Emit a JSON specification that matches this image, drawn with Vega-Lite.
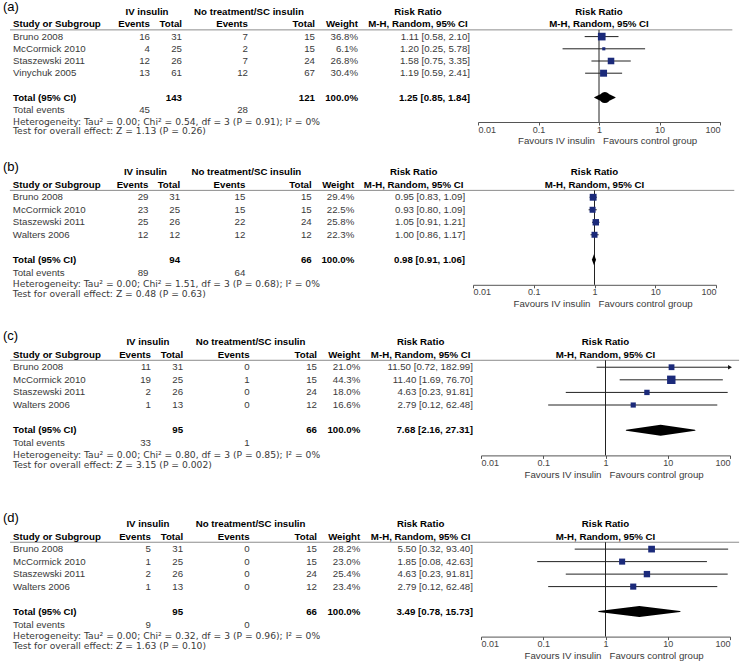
{
"$schema":"https://vega.github.io/schema/vega-lite/v6.json",
"background":"white",
"padding":0,
"datasets":{"rows":[
{"panel":"a","type":"s","line":1,"study":"Bruno 2008","e1":16,"n1":31,"e2":7,"n2":15,"w":0.368,"ci":"1.11 [0.58, 2.10]","est":1.11,"lo":0.58,"hi":2.10},
{"panel":"a","type":"s","line":2,"study":"McCormick 2010","e1":4,"n1":25,"e2":2,"n2":15,"w":0.061,"ci":"1.20 [0.25, 5.78]","est":1.20,"lo":0.25,"hi":5.78},
{"panel":"a","type":"s","line":3,"study":"Staszewski 2011","e1":12,"n1":26,"e2":7,"n2":24,"w":0.268,"ci":"1.58 [0.75, 3.35]","est":1.58,"lo":0.75,"hi":3.35},
{"panel":"a","type":"s","line":4,"study":"Vinychuk 2005","e1":13,"n1":61,"e2":12,"n2":67,"w":0.304,"ci":"1.19 [0.59, 2.41]","est":1.19,"lo":0.59,"hi":2.41},
{"panel":"a","type":"t","line":6,"study":"Total (95% CI)","n1":143,"n2":121,"w":1,"ci":"1.25 [0.85, 1.84]","est":1.25,"lo":0.85,"hi":1.84},
{"panel":"a","type":"sum","label":"(a)","ev1":45,"ev2":28,"het":"Heterogeneity: Tau² = 0.00; Chi² = 0.54, df = 3 (P = 0.91); I² = 0%","test":"Test for overall effect: Z = 1.13 (P = 0.26)"},
{"panel":"b","type":"s","line":1,"study":"Bruno 2008","e1":29,"n1":31,"e2":15,"n2":15,"w":0.294,"ci":"0.95 [0.83, 1.09]","est":0.95,"lo":0.83,"hi":1.09},
{"panel":"b","type":"s","line":2,"study":"McCormick 2010","e1":23,"n1":25,"e2":15,"n2":15,"w":0.225,"ci":"0.93 [0.80, 1.09]","est":0.93,"lo":0.80,"hi":1.09},
{"panel":"b","type":"s","line":3,"study":"Staszewski 2011","e1":25,"n1":26,"e2":22,"n2":24,"w":0.258,"ci":"1.05 [0.91, 1.21]","est":1.05,"lo":0.91,"hi":1.21},
{"panel":"b","type":"s","line":4,"study":"Walters 2006","e1":12,"n1":12,"e2":12,"n2":12,"w":0.223,"ci":"1.00 [0.86, 1.17]","est":1.00,"lo":0.86,"hi":1.17},
{"panel":"b","type":"t","line":6,"study":"Total (95% CI)","n1":94,"n2":66,"w":1,"ci":"0.98 [0.91, 1.06]","est":0.98,"lo":0.91,"hi":1.06},
{"panel":"b","type":"sum","label":"(b)","ev1":89,"ev2":64,"het":"Heterogeneity: Tau² = 0.00; Chi² = 1.51, df = 3 (P = 0.68); I² = 0%","test":"Test for overall effect: Z = 0.48 (P = 0.63)"},
{"panel":"c","type":"s","line":1,"study":"Bruno 2008","e1":11,"n1":31,"e2":0,"n2":15,"w":0.210,"ci":"11.50 [0.72, 182.99]","est":11.50,"lo":0.72,"hi":182.99},
{"panel":"c","type":"s","line":2,"study":"McCormick 2010","e1":19,"n1":25,"e2":1,"n2":15,"w":0.443,"ci":"11.40 [1.69, 76.70]","est":11.40,"lo":1.69,"hi":76.70},
{"panel":"c","type":"s","line":3,"study":"Staszewski 2011","e1":2,"n1":26,"e2":0,"n2":24,"w":0.180,"ci":"4.63 [0.23, 91.81]","est":4.63,"lo":0.23,"hi":91.81},
{"panel":"c","type":"s","line":4,"study":"Walters 2006","e1":1,"n1":13,"e2":0,"n2":12,"w":0.166,"ci":"2.79 [0.12, 62.48]","est":2.79,"lo":0.12,"hi":62.48},
{"panel":"c","type":"t","line":6,"study":"Total (95% CI)","n1":95,"n2":66,"w":1,"ci":"7.68 [2.16, 27.31]","est":7.68,"lo":2.16,"hi":27.31},
{"panel":"c","type":"sum","label":"(c)","ev1":33,"ev2":1,"het":"Heterogeneity: Tau² = 0.00; Chi² = 0.80, df = 3 (P = 0.85); I² = 0%","test":"Test for overall effect: Z = 3.15 (P = 0.002)"},
{"panel":"d","type":"s","line":1,"study":"Bruno 2008","e1":5,"n1":31,"e2":0,"n2":15,"w":0.282,"ci":"5.50 [0.32, 93.40]","est":5.50,"lo":0.32,"hi":93.40},
{"panel":"d","type":"s","line":2,"study":"McCormick 2010","e1":1,"n1":25,"e2":0,"n2":15,"w":0.230,"ci":"1.85 [0.08, 42.63]","est":1.85,"lo":0.08,"hi":42.63},
{"panel":"d","type":"s","line":3,"study":"Staszewski 2011","e1":2,"n1":26,"e2":0,"n2":24,"w":0.254,"ci":"4.63 [0.23, 91.81]","est":4.63,"lo":0.23,"hi":91.81},
{"panel":"d","type":"s","line":4,"study":"Walters 2006","e1":1,"n1":13,"e2":0,"n2":12,"w":0.234,"ci":"2.79 [0.12, 62.48]","est":2.79,"lo":0.12,"hi":62.48},
{"panel":"d","type":"t","line":6,"study":"Total (95% CI)","n1":95,"n2":66,"w":1,"ci":"3.49 [0.78, 15.73]","est":3.49,"lo":0.78,"hi":15.73},
{"panel":"d","type":"sum","label":"(d)","ev1":9,"ev2":0,"het":"Heterogeneity: Tau² = 0.00; Chi² = 0.32, df = 3 (P = 0.96); I² = 0%","test":"Test for overall effect: Z = 1.63 (P = 0.10)"}
]},
"vconcat":[
{"width":720,"height":122,"data":{"name":"rows"},"transform":[{"filter":"datum.panel=='a'"}],
"resolve":{"scale":{"x":"independent","size":"independent"},"axis":{"x":"independent"}},
"layer":[
{"layer":[
{"data":{"values":[{}]},"mark":{"type":"rule","color":"#8c8c8c"},"encoding":{"x":{"datum":10,"type":"quantitative","scale":{"domain":[0,478],"range":[0,478],"nice":false,"zero":false},"axis":null},"x2":{"datum":478},"y":{"datum":0.45,"type":"quantitative","axis":null}}},
{"transform":[{"filter":"datum.type=='s'"}],"encoding":{"y":{"field":"line","type":"quantitative","scale":{"domain":[-2,8],"reverse":true,"nice":false,"zero":false},"axis":null}},"layer":[
{"mark":{"type":"text","align":"left"},"encoding":{"x":{"datum":13,"type":"quantitative"},"text":{"field":"study"}}},
{"mark":{"type":"text","align":"right"},"encoding":{"x":{"datum":150,"type":"quantitative"},"text":{"field":"e1","type":"quantitative"}}},
{"mark":{"type":"text","align":"right"},"encoding":{"x":{"datum":182,"type":"quantitative"},"text":{"field":"n1","type":"quantitative"}}},
{"mark":{"type":"text","align":"right"},"encoding":{"x":{"datum":248,"type":"quantitative"},"text":{"field":"e2","type":"quantitative"}}},
{"mark":{"type":"text","align":"right"},"encoding":{"x":{"datum":315,"type":"quantitative"},"text":{"field":"n2","type":"quantitative"}}},
{"mark":{"type":"text","align":"right"},"encoding":{"x":{"datum":358,"type":"quantitative"},"text":{"field":"w","type":"quantitative","format":".1%"}}},
{"mark":{"type":"text","align":"right"},"encoding":{"x":{"datum":470,"type":"quantitative"},"text":{"field":"ci"}}}]},
{"transform":[{"filter":"datum.type=='t'"}],"encoding":{"y":{"field":"line","type":"quantitative","scale":{"domain":[-2,8],"reverse":true,"nice":false,"zero":false},"axis":null}},"layer":[
{"mark":{"type":"text","align":"left","fontWeight":"bold","color":"#000"},"encoding":{"x":{"datum":13,"type":"quantitative"},"text":{"field":"study"}}},
{"mark":{"type":"text","align":"right","fontWeight":"bold","color":"#000"},"encoding":{"x":{"datum":182,"type":"quantitative"},"text":{"field":"n1","type":"quantitative"}}},
{"mark":{"type":"text","align":"right","fontWeight":"bold","color":"#000"},"encoding":{"x":{"datum":315,"type":"quantitative"},"text":{"field":"n2","type":"quantitative"}}},
{"mark":{"type":"text","align":"right","fontWeight":"bold","color":"#000"},"encoding":{"x":{"datum":358,"type":"quantitative"},"text":{"field":"w","type":"quantitative","format":".1%"}}},
{"mark":{"type":"text","align":"right","fontWeight":"bold","color":"#000"},"encoding":{"x":{"datum":470,"type":"quantitative"},"text":{"field":"ci"}}}]},
{"transform":[{"filter":"datum.type=='sum'"}],"layer":[
{"mark":{"type":"text","align":"left","fontSize":13,"color":"#000"},"encoding":{"x":{"datum":3,"type":"quantitative"},"y":{"datum":-1.45,"type":"quantitative"},"text":{"field":"label"}}},
{"mark":{"type":"text","align":"left","text":"Total events"},"encoding":{"x":{"datum":13,"type":"quantitative"},"y":{"datum":7.05,"type":"quantitative"}}},
{"mark":{"type":"text","align":"right"},"encoding":{"x":{"datum":150,"type":"quantitative"},"y":{"datum":7.05,"type":"quantitative"},"text":{"field":"ev1","type":"quantitative"}}},
{"mark":{"type":"text","align":"right"},"encoding":{"x":{"datum":248,"type":"quantitative"},"y":{"datum":7.05,"type":"quantitative"},"text":{"field":"ev2","type":"quantitative"}}},
{"mark":{"type":"text","align":"left","font":"DejaVu Sans","fontSize":9.2},"encoding":{"x":{"datum":13,"type":"quantitative"},"y":{"datum":7.97,"type":"quantitative"},"text":{"field":"het"}}},
{"mark":{"type":"text","align":"left","font":"DejaVu Sans","fontSize":9.2},"encoding":{"x":{"datum":13,"type":"quantitative"},"y":{"datum":8.75,"type":"quantitative"},"text":{"field":"test"}}},
{"mark":{"type":"text","fontWeight":"bold","color":"#000","text":"IV insulin"},"encoding":{"x":{"datum":147,"type":"quantitative"},"y":{"datum":-1,"type":"quantitative"}}},
{"mark":{"type":"text","fontWeight":"bold","color":"#000","text":"No treatment/SC insulin"},"encoding":{"x":{"datum":249,"type":"quantitative"},"y":{"datum":-1,"type":"quantitative"}}},
{"mark":{"type":"text","fontWeight":"bold","color":"#000","text":"Risk Ratio"},"encoding":{"x":{"datum":418,"type":"quantitative"},"y":{"datum":-1,"type":"quantitative"}}},
{"mark":{"type":"text","align":"left","fontWeight":"bold","color":"#000","text":"Study or Subgroup"},"encoding":{"x":{"datum":13,"type":"quantitative"},"y":{"datum":0,"type":"quantitative"}}},
{"mark":{"type":"text","align":"right","fontWeight":"bold","color":"#000","text":"Events"},"encoding":{"x":{"datum":150,"type":"quantitative"},"y":{"datum":0,"type":"quantitative"}}},
{"mark":{"type":"text","align":"right","fontWeight":"bold","color":"#000","text":"Total"},"encoding":{"x":{"datum":182,"type":"quantitative"},"y":{"datum":0,"type":"quantitative"}}},
{"mark":{"type":"text","align":"right","fontWeight":"bold","color":"#000","text":"Events"},"encoding":{"x":{"datum":248,"type":"quantitative"},"y":{"datum":0,"type":"quantitative"}}},
{"mark":{"type":"text","align":"right","fontWeight":"bold","color":"#000","text":"Total"},"encoding":{"x":{"datum":315,"type":"quantitative"},"y":{"datum":0,"type":"quantitative"}}},
{"mark":{"type":"text","align":"right","fontWeight":"bold","color":"#000","text":"Weight"},"encoding":{"x":{"datum":358,"type":"quantitative"},"y":{"datum":0,"type":"quantitative"}}},
{"mark":{"type":"text","fontWeight":"bold","color":"#000","text":"M-H, Random, 95% CI"},"encoding":{"x":{"datum":418,"type":"quantitative"},"y":{"datum":0,"type":"quantitative"}}}]}
]},
{"resolve":{"scale":{"size":"independent"}},"layer":[
{"data":{"values":[{}]},"mark":{"type":"rule","color":"#8c8c8c"},"encoding":{"x":{"datum":0.01,"type":"quantitative","scale":{"type":"log","domain":[0.01,100],"range":[478,720]},"axis":{"orient":"bottom","values":[0.01,0.1,1,10,100],"format":"~g","title":null,"grid":false,"tickSize":3,"tickColor":"#555","domainColor":"#555","labelFontSize":9,"labelColor":"#444","labelPadding":0,"labelFlush":true,"labelOverlap":false}},"x2":{"datum":160},"y":{"datum":0.45,"type":"quantitative"}}},
{"data":{"values":[{}]},"mark":{"type":"rule","color":"#222"},"encoding":{"x":{"datum":1,"type":"quantitative","scale":{"type":"log"}},"y":{"datum":0.45,"type":"quantitative"},"y2":{"datum":8}}},
{"transform":[{"filter":"datum.type=='s'"}],"encoding":{"y":{"field":"line","type":"quantitative","scale":{"domain":[-2,8],"reverse":true,"nice":false,"zero":false},"axis":null}},"layer":[
{"mark":{"type":"rule","color":"#222","clip":true},"encoding":{"x":{"field":"lo","type":"quantitative","scale":{"type":"log"},"title":null},"x2":{"field":"hi"}}},
{"transform":[{"filter":"datum.hi > 100"}],"mark":{"type":"point","shape":"triangle-right","filled":true,"color":"#111","size":20,"opacity":1},"encoding":{"x":{"datum":100,"type":"quantitative","scale":{"type":"log"}}}},
{"mark":{"type":"point","shape":"square","filled":true,"color":"#1b2a7a","opacity":1},"encoding":{"x":{"field":"est","type":"quantitative","scale":{"type":"log"},"title":null},"size":{"field":"w","type":"quantitative","scale":{"domain":[0,1],"range":[0,160]},"legend":null}}}]},
{"transform":[{"filter":"datum.type=='t'"},{"fold":["lo","est","hi"],"as":["k","v"]}],"mark":{"type":"trail","color":"#000"},"encoding":{"x":{"field":"v","type":"quantitative","scale":{"type":"log"},"title":null},"y":{"field":"line","type":"quantitative","scale":{"domain":[-2,8],"reverse":true,"nice":false,"zero":false},"axis":null},"size":{"field":"k","type":"nominal","scale":{"type":"ordinal","domain":["lo","est","hi"],"range":[0,11,0]},"legend":null}}},
{"transform":[{"filter":"datum.type=='sum'"}],"layer":[
{"mark":{"type":"text","fontWeight":"bold","color":"#000","text":"Risk Ratio"},"encoding":{"x":{"datum":1,"type":"quantitative","scale":{"type":"log"}},"y":{"datum":-1,"type":"quantitative"}}},
{"mark":{"type":"text","fontWeight":"bold","color":"#000","text":"M-H, Random, 95% CI"},"encoding":{"x":{"datum":1,"type":"quantitative","scale":{"type":"log"}},"y":{"datum":0,"type":"quantitative"}}},
{"mark":{"type":"text","align":"right","dx":-4,"text":"Favours IV insulin"},"encoding":{"x":{"datum":1,"type":"quantitative","scale":{"type":"log"}},"y":{"datum":9.55,"type":"quantitative"}}},
{"mark":{"type":"text","align":"left","dx":4,"text":"Favours control group"},"encoding":{"x":{"datum":1,"type":"quantitative","scale":{"type":"log"}},"y":{"datum":9.55,"type":"quantitative"}}}]}
]}
]},
{"width":716,"height":125.8,"data":{"name":"rows"},"transform":[{"filter":"datum.panel=='b'"}],
"resolve":{"scale":{"x":"independent","size":"independent"},"axis":{"x":"independent"}},
"layer":[
{"layer":[
{"data":{"values":[{}]},"mark":{"type":"rule","color":"#8c8c8c"},"encoding":{"x":{"datum":10,"type":"quantitative","scale":{"domain":[0,478],"range":[0,473],"nice":false,"zero":false},"axis":null},"x2":{"datum":478},"y":{"datum":0.45,"type":"quantitative","axis":null}}},
{"transform":[{"filter":"datum.type=='s'"}],"encoding":{"y":{"field":"line","type":"quantitative","scale":{"domain":[-2.06,8],"reverse":true,"nice":false,"zero":false},"axis":null}},"layer":[
{"mark":{"type":"text","align":"left"},"encoding":{"x":{"datum":13,"type":"quantitative"},"text":{"field":"study"}}},
{"mark":{"type":"text","align":"right"},"encoding":{"x":{"datum":150,"type":"quantitative"},"text":{"field":"e1","type":"quantitative"}}},
{"mark":{"type":"text","align":"right"},"encoding":{"x":{"datum":182,"type":"quantitative"},"text":{"field":"n1","type":"quantitative"}}},
{"mark":{"type":"text","align":"right"},"encoding":{"x":{"datum":248,"type":"quantitative"},"text":{"field":"e2","type":"quantitative"}}},
{"mark":{"type":"text","align":"right"},"encoding":{"x":{"datum":315,"type":"quantitative"},"text":{"field":"n2","type":"quantitative"}}},
{"mark":{"type":"text","align":"right"},"encoding":{"x":{"datum":358,"type":"quantitative"},"text":{"field":"w","type":"quantitative","format":".1%"}}},
{"mark":{"type":"text","align":"right"},"encoding":{"x":{"datum":470,"type":"quantitative"},"text":{"field":"ci"}}}]},
{"transform":[{"filter":"datum.type=='t'"}],"encoding":{"y":{"field":"line","type":"quantitative","scale":{"domain":[-2.06,8],"reverse":true,"nice":false,"zero":false},"axis":null}},"layer":[
{"mark":{"type":"text","align":"left","fontWeight":"bold","color":"#000"},"encoding":{"x":{"datum":13,"type":"quantitative"},"text":{"field":"study"}}},
{"mark":{"type":"text","align":"right","fontWeight":"bold","color":"#000"},"encoding":{"x":{"datum":182,"type":"quantitative"},"text":{"field":"n1","type":"quantitative"}}},
{"mark":{"type":"text","align":"right","fontWeight":"bold","color":"#000"},"encoding":{"x":{"datum":315,"type":"quantitative"},"text":{"field":"n2","type":"quantitative"}}},
{"mark":{"type":"text","align":"right","fontWeight":"bold","color":"#000"},"encoding":{"x":{"datum":358,"type":"quantitative"},"text":{"field":"w","type":"quantitative","format":".1%"}}},
{"mark":{"type":"text","align":"right","fontWeight":"bold","color":"#000"},"encoding":{"x":{"datum":470,"type":"quantitative"},"text":{"field":"ci"}}}]},
{"transform":[{"filter":"datum.type=='sum'"}],"layer":[
{"mark":{"type":"text","align":"left","fontSize":13,"color":"#000"},"encoding":{"x":{"datum":3,"type":"quantitative"},"y":{"datum":-1.45,"type":"quantitative"},"text":{"field":"label"}}},
{"mark":{"type":"text","align":"left","text":"Total events"},"encoding":{"x":{"datum":13,"type":"quantitative"},"y":{"datum":7.05,"type":"quantitative"}}},
{"mark":{"type":"text","align":"right"},"encoding":{"x":{"datum":150,"type":"quantitative"},"y":{"datum":7.05,"type":"quantitative"},"text":{"field":"ev1","type":"quantitative"}}},
{"mark":{"type":"text","align":"right"},"encoding":{"x":{"datum":248,"type":"quantitative"},"y":{"datum":7.05,"type":"quantitative"},"text":{"field":"ev2","type":"quantitative"}}},
{"mark":{"type":"text","align":"left","font":"DejaVu Sans","fontSize":9.2},"encoding":{"x":{"datum":13,"type":"quantitative"},"y":{"datum":7.97,"type":"quantitative"},"text":{"field":"het"}}},
{"mark":{"type":"text","align":"left","font":"DejaVu Sans","fontSize":9.2},"encoding":{"x":{"datum":13,"type":"quantitative"},"y":{"datum":8.75,"type":"quantitative"},"text":{"field":"test"}}},
{"mark":{"type":"text","fontWeight":"bold","color":"#000","text":"IV insulin"},"encoding":{"x":{"datum":147,"type":"quantitative"},"y":{"datum":-1,"type":"quantitative"}}},
{"mark":{"type":"text","fontWeight":"bold","color":"#000","text":"No treatment/SC insulin"},"encoding":{"x":{"datum":249,"type":"quantitative"},"y":{"datum":-1,"type":"quantitative"}}},
{"mark":{"type":"text","fontWeight":"bold","color":"#000","text":"Risk Ratio"},"encoding":{"x":{"datum":418,"type":"quantitative"},"y":{"datum":-1,"type":"quantitative"}}},
{"mark":{"type":"text","align":"left","fontWeight":"bold","color":"#000","text":"Study or Subgroup"},"encoding":{"x":{"datum":13,"type":"quantitative"},"y":{"datum":0,"type":"quantitative"}}},
{"mark":{"type":"text","align":"right","fontWeight":"bold","color":"#000","text":"Events"},"encoding":{"x":{"datum":150,"type":"quantitative"},"y":{"datum":0,"type":"quantitative"}}},
{"mark":{"type":"text","align":"right","fontWeight":"bold","color":"#000","text":"Total"},"encoding":{"x":{"datum":182,"type":"quantitative"},"y":{"datum":0,"type":"quantitative"}}},
{"mark":{"type":"text","align":"right","fontWeight":"bold","color":"#000","text":"Events"},"encoding":{"x":{"datum":248,"type":"quantitative"},"y":{"datum":0,"type":"quantitative"}}},
{"mark":{"type":"text","align":"right","fontWeight":"bold","color":"#000","text":"Total"},"encoding":{"x":{"datum":315,"type":"quantitative"},"y":{"datum":0,"type":"quantitative"}}},
{"mark":{"type":"text","align":"right","fontWeight":"bold","color":"#000","text":"Weight"},"encoding":{"x":{"datum":358,"type":"quantitative"},"y":{"datum":0,"type":"quantitative"}}},
{"mark":{"type":"text","fontWeight":"bold","color":"#000","text":"M-H, Random, 95% CI"},"encoding":{"x":{"datum":418,"type":"quantitative"},"y":{"datum":0,"type":"quantitative"}}}]}
]},
{"resolve":{"scale":{"size":"independent"}},"layer":[
{"data":{"values":[{}]},"mark":{"type":"rule","color":"#8c8c8c"},"encoding":{"x":{"datum":0.01,"type":"quantitative","scale":{"type":"log","domain":[0.01,100],"range":[473,716]},"axis":{"orient":"bottom","values":[0.01,0.1,1,10,100],"format":"~g","title":null,"grid":false,"tickSize":3,"tickColor":"#555","domainColor":"#555","labelFontSize":9,"labelColor":"#444","labelPadding":0,"labelFlush":true,"labelOverlap":false}},"x2":{"datum":200},"y":{"datum":0.45,"type":"quantitative"}}},
{"data":{"values":[{}]},"mark":{"type":"rule","color":"#222"},"encoding":{"x":{"datum":1,"type":"quantitative","scale":{"type":"log"}},"y":{"datum":0.45,"type":"quantitative"},"y2":{"datum":8}}},
{"transform":[{"filter":"datum.type=='s'"}],"encoding":{"y":{"field":"line","type":"quantitative","scale":{"domain":[-2.06,8],"reverse":true,"nice":false,"zero":false},"axis":null}},"layer":[
{"mark":{"type":"rule","color":"#222","clip":true},"encoding":{"x":{"field":"lo","type":"quantitative","scale":{"type":"log"},"title":null},"x2":{"field":"hi"}}},
{"transform":[{"filter":"datum.hi > 100"}],"mark":{"type":"point","shape":"triangle-right","filled":true,"color":"#111","size":20,"opacity":1},"encoding":{"x":{"datum":100,"type":"quantitative","scale":{"type":"log"}}}},
{"mark":{"type":"point","shape":"square","filled":true,"color":"#1b2a7a","opacity":1},"encoding":{"x":{"field":"est","type":"quantitative","scale":{"type":"log"},"title":null},"size":{"field":"w","type":"quantitative","scale":{"domain":[0,1],"range":[0,160]},"legend":null}}}]},
{"transform":[{"filter":"datum.type=='t'"}],"mark":{"type":"point","shape":"M-0.38,0L0,-1L0.38,0L0,1Z","filled":true,"color":"#000","opacity":1,"size":121},"encoding":{"x":{"field":"est","type":"quantitative","scale":{"type":"log"},"title":null},"y":{"field":"line","type":"quantitative","scale":{"domain":[-2.06,8],"reverse":true,"nice":false,"zero":false},"axis":null}}},
{"transform":[{"filter":"datum.type=='sum'"}],"layer":[
{"mark":{"type":"text","fontWeight":"bold","color":"#000","text":"Risk Ratio"},"encoding":{"x":{"datum":1,"type":"quantitative","scale":{"type":"log"}},"y":{"datum":-1,"type":"quantitative"}}},
{"mark":{"type":"text","fontWeight":"bold","color":"#000","text":"M-H, Random, 95% CI"},"encoding":{"x":{"datum":1,"type":"quantitative","scale":{"type":"log"}},"y":{"datum":0,"type":"quantitative"}}},
{"mark":{"type":"text","align":"right","dx":-4,"text":"Favours IV insulin"},"encoding":{"x":{"datum":1,"type":"quantitative","scale":{"type":"log"}},"y":{"datum":9.55,"type":"quantitative"}}},
{"mark":{"type":"text","align":"left","dx":4,"text":"Favours control group"},"encoding":{"x":{"datum":1,"type":"quantitative","scale":{"type":"log"}},"y":{"datum":9.55,"type":"quantitative"}}}]}
]}
]},
{"width":730,"height":133.4,"data":{"name":"rows"},"transform":[{"filter":"datum.panel=='c'"}],
"resolve":{"scale":{"x":"independent","size":"independent"},"axis":{"x":"independent"}},
"layer":[
{"layer":[
{"data":{"values":[{}]},"mark":{"type":"rule","color":"#8c8c8c"},"encoding":{"x":{"datum":10,"type":"quantitative","scale":{"domain":[0,478],"range":[0,481],"nice":false,"zero":false},"axis":null},"x2":{"datum":478},"y":{"datum":0.45,"type":"quantitative","axis":null}}},
{"transform":[{"filter":"datum.type=='s'"}],"encoding":{"y":{"field":"line","type":"quantitative","scale":{"domain":[-2.59,8],"reverse":true,"nice":false,"zero":false},"axis":null}},"layer":[
{"mark":{"type":"text","align":"left"},"encoding":{"x":{"datum":13,"type":"quantitative"},"text":{"field":"study"}}},
{"mark":{"type":"text","align":"right"},"encoding":{"x":{"datum":150,"type":"quantitative"},"text":{"field":"e1","type":"quantitative"}}},
{"mark":{"type":"text","align":"right"},"encoding":{"x":{"datum":182,"type":"quantitative"},"text":{"field":"n1","type":"quantitative"}}},
{"mark":{"type":"text","align":"right"},"encoding":{"x":{"datum":248,"type":"quantitative"},"text":{"field":"e2","type":"quantitative"}}},
{"mark":{"type":"text","align":"right"},"encoding":{"x":{"datum":315,"type":"quantitative"},"text":{"field":"n2","type":"quantitative"}}},
{"mark":{"type":"text","align":"right"},"encoding":{"x":{"datum":358,"type":"quantitative"},"text":{"field":"w","type":"quantitative","format":".1%"}}},
{"mark":{"type":"text","align":"right"},"encoding":{"x":{"datum":470,"type":"quantitative"},"text":{"field":"ci"}}}]},
{"transform":[{"filter":"datum.type=='t'"}],"encoding":{"y":{"field":"line","type":"quantitative","scale":{"domain":[-2.59,8],"reverse":true,"nice":false,"zero":false},"axis":null}},"layer":[
{"mark":{"type":"text","align":"left","fontWeight":"bold","color":"#000"},"encoding":{"x":{"datum":13,"type":"quantitative"},"text":{"field":"study"}}},
{"mark":{"type":"text","align":"right","fontWeight":"bold","color":"#000"},"encoding":{"x":{"datum":182,"type":"quantitative"},"text":{"field":"n1","type":"quantitative"}}},
{"mark":{"type":"text","align":"right","fontWeight":"bold","color":"#000"},"encoding":{"x":{"datum":315,"type":"quantitative"},"text":{"field":"n2","type":"quantitative"}}},
{"mark":{"type":"text","align":"right","fontWeight":"bold","color":"#000"},"encoding":{"x":{"datum":358,"type":"quantitative"},"text":{"field":"w","type":"quantitative","format":".1%"}}},
{"mark":{"type":"text","align":"right","fontWeight":"bold","color":"#000"},"encoding":{"x":{"datum":470,"type":"quantitative"},"text":{"field":"ci"}}}]},
{"transform":[{"filter":"datum.type=='sum'"}],"layer":[
{"mark":{"type":"text","align":"left","fontSize":13,"color":"#000"},"encoding":{"x":{"datum":3,"type":"quantitative"},"y":{"datum":-1.45,"type":"quantitative"},"text":{"field":"label"}}},
{"mark":{"type":"text","align":"left","text":"Total events"},"encoding":{"x":{"datum":13,"type":"quantitative"},"y":{"datum":7.05,"type":"quantitative"}}},
{"mark":{"type":"text","align":"right"},"encoding":{"x":{"datum":150,"type":"quantitative"},"y":{"datum":7.05,"type":"quantitative"},"text":{"field":"ev1","type":"quantitative"}}},
{"mark":{"type":"text","align":"right"},"encoding":{"x":{"datum":248,"type":"quantitative"},"y":{"datum":7.05,"type":"quantitative"},"text":{"field":"ev2","type":"quantitative"}}},
{"mark":{"type":"text","align":"left","font":"DejaVu Sans","fontSize":9.2},"encoding":{"x":{"datum":13,"type":"quantitative"},"y":{"datum":7.97,"type":"quantitative"},"text":{"field":"het"}}},
{"mark":{"type":"text","align":"left","font":"DejaVu Sans","fontSize":9.2},"encoding":{"x":{"datum":13,"type":"quantitative"},"y":{"datum":8.75,"type":"quantitative"},"text":{"field":"test"}}},
{"mark":{"type":"text","fontWeight":"bold","color":"#000","text":"IV insulin"},"encoding":{"x":{"datum":147,"type":"quantitative"},"y":{"datum":-1,"type":"quantitative"}}},
{"mark":{"type":"text","fontWeight":"bold","color":"#000","text":"No treatment/SC insulin"},"encoding":{"x":{"datum":249,"type":"quantitative"},"y":{"datum":-1,"type":"quantitative"}}},
{"mark":{"type":"text","fontWeight":"bold","color":"#000","text":"Risk Ratio"},"encoding":{"x":{"datum":418,"type":"quantitative"},"y":{"datum":-1,"type":"quantitative"}}},
{"mark":{"type":"text","align":"left","fontWeight":"bold","color":"#000","text":"Study or Subgroup"},"encoding":{"x":{"datum":13,"type":"quantitative"},"y":{"datum":0,"type":"quantitative"}}},
{"mark":{"type":"text","align":"right","fontWeight":"bold","color":"#000","text":"Events"},"encoding":{"x":{"datum":150,"type":"quantitative"},"y":{"datum":0,"type":"quantitative"}}},
{"mark":{"type":"text","align":"right","fontWeight":"bold","color":"#000","text":"Total"},"encoding":{"x":{"datum":182,"type":"quantitative"},"y":{"datum":0,"type":"quantitative"}}},
{"mark":{"type":"text","align":"right","fontWeight":"bold","color":"#000","text":"Events"},"encoding":{"x":{"datum":248,"type":"quantitative"},"y":{"datum":0,"type":"quantitative"}}},
{"mark":{"type":"text","align":"right","fontWeight":"bold","color":"#000","text":"Total"},"encoding":{"x":{"datum":315,"type":"quantitative"},"y":{"datum":0,"type":"quantitative"}}},
{"mark":{"type":"text","align":"right","fontWeight":"bold","color":"#000","text":"Weight"},"encoding":{"x":{"datum":358,"type":"quantitative"},"y":{"datum":0,"type":"quantitative"}}},
{"mark":{"type":"text","fontWeight":"bold","color":"#000","text":"M-H, Random, 95% CI"},"encoding":{"x":{"datum":418,"type":"quantitative"},"y":{"datum":0,"type":"quantitative"}}}]}
]},
{"resolve":{"scale":{"size":"independent"}},"layer":[
{"data":{"values":[{}]},"mark":{"type":"rule","color":"#8c8c8c"},"encoding":{"x":{"datum":0.01,"type":"quantitative","scale":{"type":"log","domain":[0.01,100],"range":[481,730]},"axis":{"orient":"bottom","values":[0.01,0.1,1,10,100],"format":"~g","title":null,"grid":false,"tickSize":3,"tickColor":"#555","domainColor":"#555","labelFontSize":9,"labelColor":"#444","labelPadding":0,"labelFlush":true,"labelOverlap":false}},"x2":{"datum":140},"y":{"datum":0.45,"type":"quantitative"}}},
{"data":{"values":[{}]},"mark":{"type":"rule","color":"#222"},"encoding":{"x":{"datum":1,"type":"quantitative","scale":{"type":"log"}},"y":{"datum":0.45,"type":"quantitative"},"y2":{"datum":8}}},
{"transform":[{"filter":"datum.type=='s'"}],"encoding":{"y":{"field":"line","type":"quantitative","scale":{"domain":[-2.59,8],"reverse":true,"nice":false,"zero":false},"axis":null}},"layer":[
{"mark":{"type":"rule","color":"#222","clip":true},"encoding":{"x":{"field":"lo","type":"quantitative","scale":{"type":"log"},"title":null},"x2":{"field":"hi"}}},
{"transform":[{"filter":"datum.hi > 100"}],"mark":{"type":"point","shape":"triangle-right","filled":true,"color":"#111","size":20,"opacity":1},"encoding":{"x":{"datum":100,"type":"quantitative","scale":{"type":"log"}}}},
{"mark":{"type":"point","shape":"square","filled":true,"color":"#1b2a7a","opacity":1},"encoding":{"x":{"field":"est","type":"quantitative","scale":{"type":"log"},"title":null},"size":{"field":"w","type":"quantitative","scale":{"domain":[0,1],"range":[0,160]},"legend":null}}}]},
{"transform":[{"filter":"datum.type=='t'"},{"fold":["lo","est","hi"],"as":["k","v"]}],"mark":{"type":"trail","color":"#000"},"encoding":{"x":{"field":"v","type":"quantitative","scale":{"type":"log"},"title":null},"y":{"field":"line","type":"quantitative","scale":{"domain":[-2.59,8],"reverse":true,"nice":false,"zero":false},"axis":null},"size":{"field":"k","type":"nominal","scale":{"type":"ordinal","domain":["lo","est","hi"],"range":[0,11,0]},"legend":null}}},
{"transform":[{"filter":"datum.type=='sum'"}],"layer":[
{"mark":{"type":"text","fontWeight":"bold","color":"#000","text":"Risk Ratio"},"encoding":{"x":{"datum":1,"type":"quantitative","scale":{"type":"log"}},"y":{"datum":-1,"type":"quantitative"}}},
{"mark":{"type":"text","fontWeight":"bold","color":"#000","text":"M-H, Random, 95% CI"},"encoding":{"x":{"datum":1,"type":"quantitative","scale":{"type":"log"}},"y":{"datum":0,"type":"quantitative"}}},
{"mark":{"type":"text","align":"right","dx":-4,"text":"Favours IV insulin"},"encoding":{"x":{"datum":1,"type":"quantitative","scale":{"type":"log"}},"y":{"datum":9.55,"type":"quantitative"}}},
{"mark":{"type":"text","align":"left","dx":4,"text":"Favours control group"},"encoding":{"x":{"datum":1,"type":"quantitative","scale":{"type":"log"}},"y":{"datum":9.55,"type":"quantitative"}}}]}
]}
]},
{"width":730,"height":143.6,"data":{"name":"rows"},"transform":[{"filter":"datum.panel=='d'"}],
"resolve":{"scale":{"x":"independent","size":"independent"},"axis":{"x":"independent"}},
"layer":[
{"layer":[
{"data":{"values":[{}]},"mark":{"type":"rule","color":"#8c8c8c"},"encoding":{"x":{"datum":10,"type":"quantitative","scale":{"domain":[0,478],"range":[0,481],"nice":false,"zero":false},"axis":null},"x2":{"datum":478},"y":{"datum":0.45,"type":"quantitative","axis":null}}},
{"transform":[{"filter":"datum.type=='s'"}],"encoding":{"y":{"field":"line","type":"quantitative","scale":{"domain":[-3.49,8],"reverse":true,"nice":false,"zero":false},"axis":null}},"layer":[
{"mark":{"type":"text","align":"left"},"encoding":{"x":{"datum":13,"type":"quantitative"},"text":{"field":"study"}}},
{"mark":{"type":"text","align":"right"},"encoding":{"x":{"datum":150,"type":"quantitative"},"text":{"field":"e1","type":"quantitative"}}},
{"mark":{"type":"text","align":"right"},"encoding":{"x":{"datum":182,"type":"quantitative"},"text":{"field":"n1","type":"quantitative"}}},
{"mark":{"type":"text","align":"right"},"encoding":{"x":{"datum":248,"type":"quantitative"},"text":{"field":"e2","type":"quantitative"}}},
{"mark":{"type":"text","align":"right"},"encoding":{"x":{"datum":315,"type":"quantitative"},"text":{"field":"n2","type":"quantitative"}}},
{"mark":{"type":"text","align":"right"},"encoding":{"x":{"datum":358,"type":"quantitative"},"text":{"field":"w","type":"quantitative","format":".1%"}}},
{"mark":{"type":"text","align":"right"},"encoding":{"x":{"datum":470,"type":"quantitative"},"text":{"field":"ci"}}}]},
{"transform":[{"filter":"datum.type=='t'"}],"encoding":{"y":{"field":"line","type":"quantitative","scale":{"domain":[-3.49,8],"reverse":true,"nice":false,"zero":false},"axis":null}},"layer":[
{"mark":{"type":"text","align":"left","fontWeight":"bold","color":"#000"},"encoding":{"x":{"datum":13,"type":"quantitative"},"text":{"field":"study"}}},
{"mark":{"type":"text","align":"right","fontWeight":"bold","color":"#000"},"encoding":{"x":{"datum":182,"type":"quantitative"},"text":{"field":"n1","type":"quantitative"}}},
{"mark":{"type":"text","align":"right","fontWeight":"bold","color":"#000"},"encoding":{"x":{"datum":315,"type":"quantitative"},"text":{"field":"n2","type":"quantitative"}}},
{"mark":{"type":"text","align":"right","fontWeight":"bold","color":"#000"},"encoding":{"x":{"datum":358,"type":"quantitative"},"text":{"field":"w","type":"quantitative","format":".1%"}}},
{"mark":{"type":"text","align":"right","fontWeight":"bold","color":"#000"},"encoding":{"x":{"datum":470,"type":"quantitative"},"text":{"field":"ci"}}}]},
{"transform":[{"filter":"datum.type=='sum'"}],"layer":[
{"mark":{"type":"text","align":"left","fontSize":13,"color":"#000"},"encoding":{"x":{"datum":3,"type":"quantitative"},"y":{"datum":-1.45,"type":"quantitative"},"text":{"field":"label"}}},
{"mark":{"type":"text","align":"left","text":"Total events"},"encoding":{"x":{"datum":13,"type":"quantitative"},"y":{"datum":7.05,"type":"quantitative"}}},
{"mark":{"type":"text","align":"right"},"encoding":{"x":{"datum":150,"type":"quantitative"},"y":{"datum":7.05,"type":"quantitative"},"text":{"field":"ev1","type":"quantitative"}}},
{"mark":{"type":"text","align":"right"},"encoding":{"x":{"datum":248,"type":"quantitative"},"y":{"datum":7.05,"type":"quantitative"},"text":{"field":"ev2","type":"quantitative"}}},
{"mark":{"type":"text","align":"left","font":"DejaVu Sans","fontSize":9.2},"encoding":{"x":{"datum":13,"type":"quantitative"},"y":{"datum":7.97,"type":"quantitative"},"text":{"field":"het"}}},
{"mark":{"type":"text","align":"left","font":"DejaVu Sans","fontSize":9.2},"encoding":{"x":{"datum":13,"type":"quantitative"},"y":{"datum":8.75,"type":"quantitative"},"text":{"field":"test"}}},
{"mark":{"type":"text","fontWeight":"bold","color":"#000","text":"IV insulin"},"encoding":{"x":{"datum":147,"type":"quantitative"},"y":{"datum":-1,"type":"quantitative"}}},
{"mark":{"type":"text","fontWeight":"bold","color":"#000","text":"No treatment/SC insulin"},"encoding":{"x":{"datum":249,"type":"quantitative"},"y":{"datum":-1,"type":"quantitative"}}},
{"mark":{"type":"text","fontWeight":"bold","color":"#000","text":"Risk Ratio"},"encoding":{"x":{"datum":418,"type":"quantitative"},"y":{"datum":-1,"type":"quantitative"}}},
{"mark":{"type":"text","align":"left","fontWeight":"bold","color":"#000","text":"Study or Subgroup"},"encoding":{"x":{"datum":13,"type":"quantitative"},"y":{"datum":0,"type":"quantitative"}}},
{"mark":{"type":"text","align":"right","fontWeight":"bold","color":"#000","text":"Events"},"encoding":{"x":{"datum":150,"type":"quantitative"},"y":{"datum":0,"type":"quantitative"}}},
{"mark":{"type":"text","align":"right","fontWeight":"bold","color":"#000","text":"Total"},"encoding":{"x":{"datum":182,"type":"quantitative"},"y":{"datum":0,"type":"quantitative"}}},
{"mark":{"type":"text","align":"right","fontWeight":"bold","color":"#000","text":"Events"},"encoding":{"x":{"datum":248,"type":"quantitative"},"y":{"datum":0,"type":"quantitative"}}},
{"mark":{"type":"text","align":"right","fontWeight":"bold","color":"#000","text":"Total"},"encoding":{"x":{"datum":315,"type":"quantitative"},"y":{"datum":0,"type":"quantitative"}}},
{"mark":{"type":"text","align":"right","fontWeight":"bold","color":"#000","text":"Weight"},"encoding":{"x":{"datum":358,"type":"quantitative"},"y":{"datum":0,"type":"quantitative"}}},
{"mark":{"type":"text","fontWeight":"bold","color":"#000","text":"M-H, Random, 95% CI"},"encoding":{"x":{"datum":418,"type":"quantitative"},"y":{"datum":0,"type":"quantitative"}}}]}
]},
{"resolve":{"scale":{"size":"independent"}},"layer":[
{"data":{"values":[{}]},"mark":{"type":"rule","color":"#8c8c8c"},"encoding":{"x":{"datum":0.01,"type":"quantitative","scale":{"type":"log","domain":[0.01,100],"range":[481,730]},"axis":{"orient":"bottom","values":[0.01,0.1,1,10,100],"format":"~g","title":null,"grid":false,"tickSize":3,"tickColor":"#555","domainColor":"#555","labelFontSize":9,"labelColor":"#444","labelPadding":0,"labelFlush":true,"labelOverlap":false}},"x2":{"datum":140},"y":{"datum":0.45,"type":"quantitative"}}},
{"data":{"values":[{}]},"mark":{"type":"rule","color":"#222"},"encoding":{"x":{"datum":1,"type":"quantitative","scale":{"type":"log"}},"y":{"datum":0.45,"type":"quantitative"},"y2":{"datum":8}}},
{"transform":[{"filter":"datum.type=='s'"}],"encoding":{"y":{"field":"line","type":"quantitative","scale":{"domain":[-3.49,8],"reverse":true,"nice":false,"zero":false},"axis":null}},"layer":[
{"mark":{"type":"rule","color":"#222","clip":true},"encoding":{"x":{"field":"lo","type":"quantitative","scale":{"type":"log"},"title":null},"x2":{"field":"hi"}}},
{"transform":[{"filter":"datum.hi > 100"}],"mark":{"type":"point","shape":"triangle-right","filled":true,"color":"#111","size":20,"opacity":1},"encoding":{"x":{"datum":100,"type":"quantitative","scale":{"type":"log"}}}},
{"mark":{"type":"point","shape":"square","filled":true,"color":"#1b2a7a","opacity":1},"encoding":{"x":{"field":"est","type":"quantitative","scale":{"type":"log"},"title":null},"size":{"field":"w","type":"quantitative","scale":{"domain":[0,1],"range":[0,160]},"legend":null}}}]},
{"transform":[{"filter":"datum.type=='t'"},{"fold":["lo","est","hi"],"as":["k","v"]}],"mark":{"type":"trail","color":"#000"},"encoding":{"x":{"field":"v","type":"quantitative","scale":{"type":"log"},"title":null},"y":{"field":"line","type":"quantitative","scale":{"domain":[-3.49,8],"reverse":true,"nice":false,"zero":false},"axis":null},"size":{"field":"k","type":"nominal","scale":{"type":"ordinal","domain":["lo","est","hi"],"range":[0,11,0]},"legend":null}}},
{"transform":[{"filter":"datum.type=='sum'"}],"layer":[
{"mark":{"type":"text","fontWeight":"bold","color":"#000","text":"Risk Ratio"},"encoding":{"x":{"datum":1,"type":"quantitative","scale":{"type":"log"}},"y":{"datum":-1,"type":"quantitative"}}},
{"mark":{"type":"text","fontWeight":"bold","color":"#000","text":"M-H, Random, 95% CI"},"encoding":{"x":{"datum":1,"type":"quantitative","scale":{"type":"log"}},"y":{"datum":0,"type":"quantitative"}}},
{"mark":{"type":"text","align":"right","dx":-4,"text":"Favours IV insulin"},"encoding":{"x":{"datum":1,"type":"quantitative","scale":{"type":"log"}},"y":{"datum":9.55,"type":"quantitative"}}},
{"mark":{"type":"text","align":"left","dx":4,"text":"Favours control group"},"encoding":{"x":{"datum":1,"type":"quantitative","scale":{"type":"log"}},"y":{"datum":9.55,"type":"quantitative"}}}]}
]}
]}
],
"spacing":37,
"bounds":"flush",
"config":{"view":{"stroke":null},"axisY":{"disable":true},"text":{"font":"Liberation Sans","fontSize":9.7,"color":"#3a3a3a"},"axis":{"labelFont":"Liberation Sans"}}
}
